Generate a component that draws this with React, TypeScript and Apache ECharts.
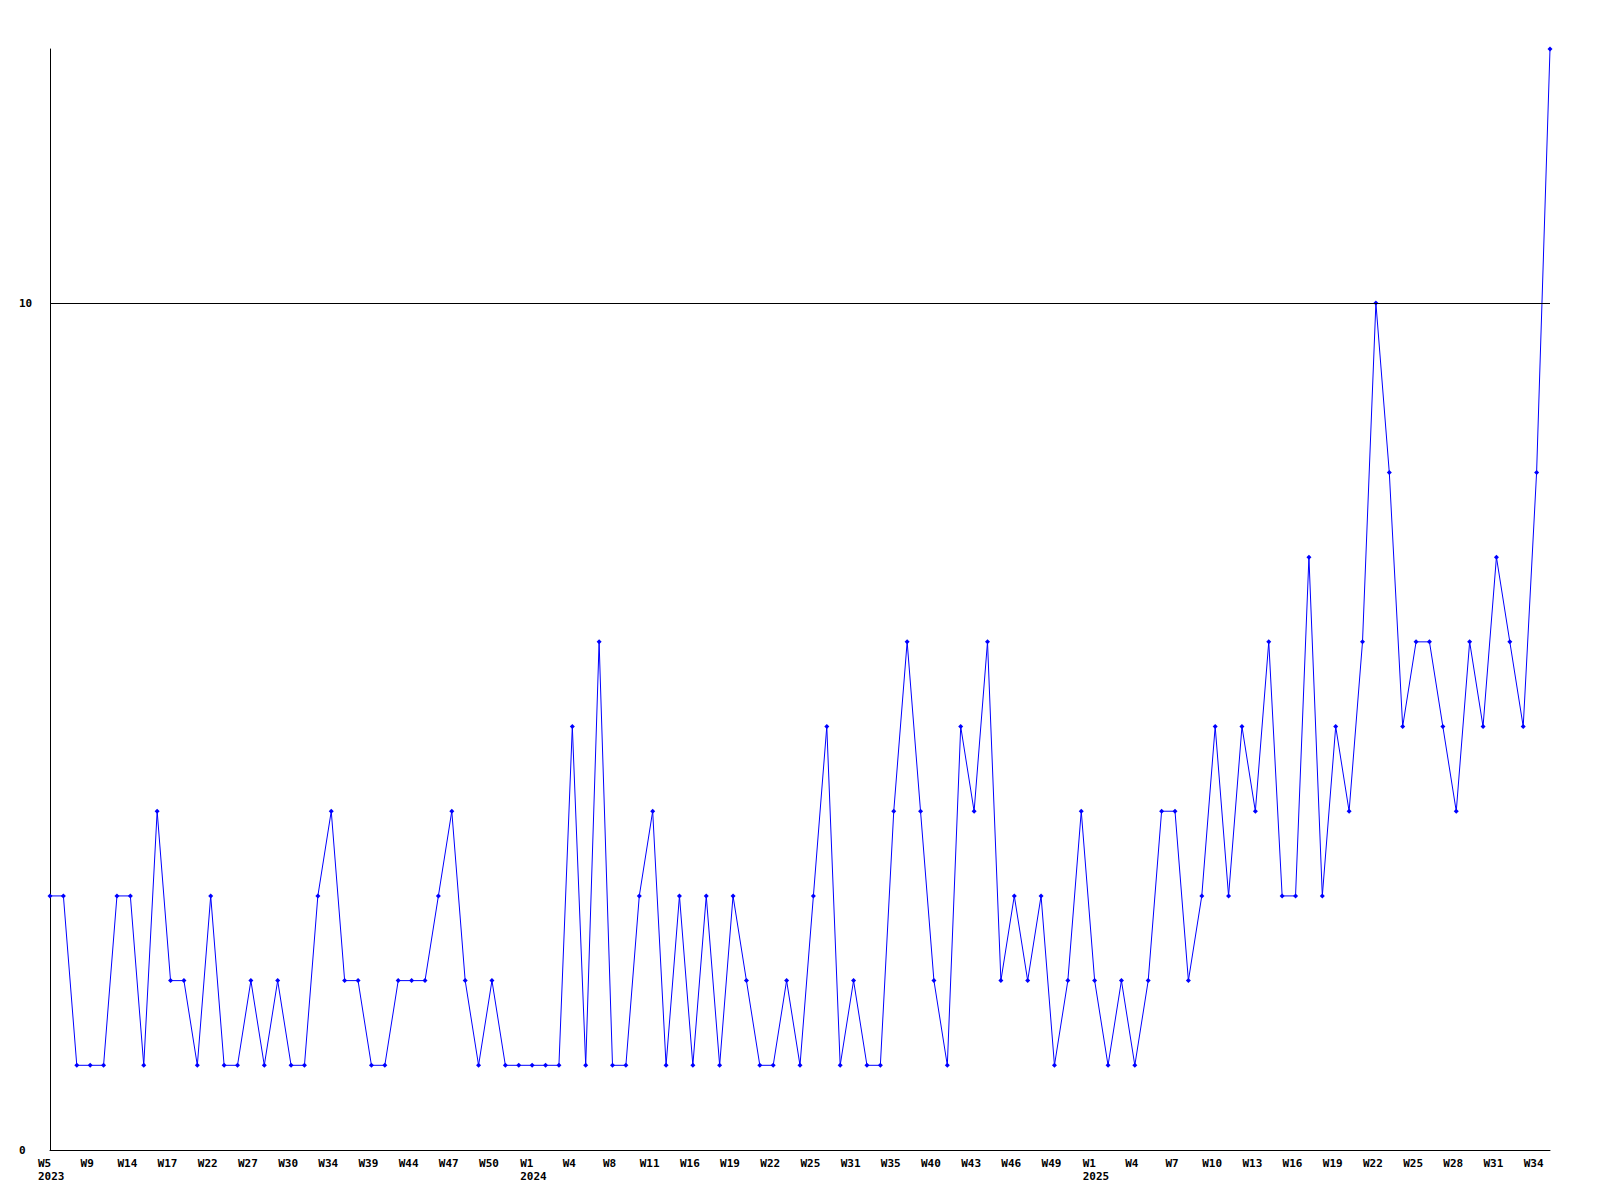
import React, { useEffect, useRef } from "react";
import * as echarts from "echarts";

const weeks2023 = [5, 6, 8, 9, 11, 12, 14, 15, 16, 17, 19, 20, 22, 24, 25, 27, 28, 29, 30, 31, 33, 34, 36, 37, 39, 41, 42, 44, 45, 46, 47, 48, 49, 50, 51, 52];
const weeks2024 = [1, 2, 3, 4, 5, 7, 8, 9, 10, 11, 13, 14, 16, 17, 18, 19, 20, 21, 22, 23, 24, 25, 27, 29, 31, 32, 34, 35, 37, 38, 40, 41, 42, 43, 44, 45, 46, 47, 48, 49, 50, 52];
const weeks2025 = [1, 2, 3, 4, 5, 6, 7, 8, 9, 10, 11, 12, 13, 14, 15, 16, 17, 18, 19, 20, 21, 22, 23, 24, 25, 26, 27, 28, 29, 30, 31, 32, 33, 34, 35];

const values2023 = [3, 3, 1, 1, 1, 3, 3, 1, 4, 2, 2, 1, 3, 1, 1, 2, 1, 2, 1, 1, 3, 4, 2, 2, 1, 1, 2, 2, 2, 3, 4, 2, 1, 2, 1, 1];
const values2024 = [1, 1, 1, 5, 1, 6, 1, 1, 3, 4, 1, 3, 1, 3, 1, 3, 2, 1, 1, 2, 1, 3, 5, 1, 2, 1, 1, 4, 6, 4, 2, 1, 5, 4, 6, 2, 3, 2, 3, 1, 2, 4];
const values2025 = [2, 1, 2, 1, 2, 4, 4, 2, 3, 5, 3, 5, 4, 6, 3, 3, 7, 3, 5, 4, 6, 10, 8, 5, 6, 6, 5, 4, 6, 5, 7, 6, 5, 8, 13];

const yTicks = [0, 10];

const categories: string[] = [
  ...weeks2023.map((w) => `2023-W${w}`),
  ...weeks2024.map((w) => `2024-W${w}`),
  ...weeks2025.map((w) => `2025-W${w}`),
];
const values: number[] = [...values2023, ...values2024, ...values2025];

const FONT = "DejaVu Sans Mono";

export default function App() {
  const ref = useRef<HTMLDivElement>(null);
  useEffect(() => {
    if (!ref.current) return;
    const chart = echarts.init(ref.current, null, { renderer: "svg" });
    const txt = {
      color: "#000",
      fontFamily: FONT,
      fontWeight: "bold",
      fontSize: 11,
      lineHeight: 13,
    };
    chart.setOption({
      animation: false,
      backgroundColor: "#ffffff",
      grid: { left: 50, right: 50, top: 49, bottom: 50, containLabel: false },
      xAxis: {
        type: "category",
        data: categories,
        boundaryGap: false,
        axisLine: { show: true, lineStyle: { color: "#000", width: 1 } },
        axisTick: { show: false },
        splitLine: { show: false },
        axisLabel: {
          interval: 2,
          margin: 7,
          ...txt,
          formatter: (val: string, idx: number) => {
            const [yr, wk] = val.split("-");
            const prev = idx > 0 ? categories[idx - 1].split("-")[0] : "";
            if (idx === 0 || prev !== yr) return `{a|${wk}}\n{y|${yr}}`;
            return `{w|${wk}}`;
          },
          rich: {
            w: { ...txt, padding: [0, 6, 0, 0] },
            a: { ...txt, width: 24, align: "left" },
            y: { ...txt, width: 24, align: "left" },
          },
        },
      },
      yAxis: {
        type: "value",
        min: 0,
        max: 13,
        interval: 10,
        axisLine: { show: true, lineStyle: { color: "#000", width: 1 } },
        axisTick: { show: false },
        splitLine: { show: false },
        axisLabel: {
          align: "left",
          margin: 31,
          color: "#000",
          fontFamily: FONT,
          fontWeight: "bold",
          fontSize: 11,
          formatter: (v: number) => (yTicks.includes(v) ? String(v) : ""),
        },
      },
      series: [
        {
          type: "line",
          data: values,
          symbol: "diamond",
          symbolSize: 5,
          showAllSymbol: true,
          lineStyle: { color: "#0000ff", width: 1 },
          itemStyle: { color: "#0000ff" },
          markLine: {
            silent: true,
            symbol: "none",
            label: { show: false },
            lineStyle: { color: "#000", width: 1, type: "solid" },
            data: [{ yAxis: yTicks[1] }],
          },
        },
      ],
    });
    return () => chart.dispose();
  }, []);
  return (
    <div
      ref={ref}
      style={{ position: "absolute", left: 0, top: 0, width: 1600, height: 1200 }}
    />
  );
}
